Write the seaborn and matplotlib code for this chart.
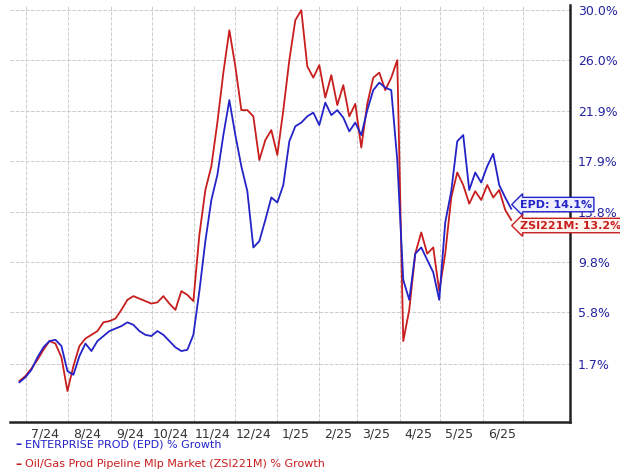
import matplotlib.pyplot as plt
import pandas as pd
import seaborn as sns

epd = [0.2, 0.6, 1.2, 2.2, 3.0, 3.5, 3.6, 3.1, 1.1, 0.8, 2.3, 3.3, 2.7, 3.5, 3.9, 4.3, 4.5, 4.7, 5.0, 4.8,
       4.3, 4.0, 3.9, 4.3, 4.0, 3.5, 3.0, 2.7, 2.8, 4.0, 7.5, 11.5, 14.8, 16.8, 20.0, 22.8, 20.0, 17.5, 15.5, 11.0,
       11.5, 13.2, 15.0, 14.6, 16.0, 19.5, 20.7, 21.0, 21.5, 21.8, 20.8, 22.6, 21.6, 22.0, 21.4, 20.3, 21.0, 20.0, 22.0, 23.6,
       24.2, 23.8, 23.6, 18.0, 8.4, 6.8, 10.5, 11.0, 10.0, 9.0, 6.8, 13.0, 15.5, 19.5, 20.0, 15.6, 17.0, 16.2, 17.5, 18.5,
       16.0, 15.0, 14.1]
zsi = [0.3, 0.7, 1.3, 2.0, 2.8, 3.5, 3.3, 2.2, -0.5, 1.5, 3.1, 3.7, 4.0, 4.3, 5.0, 5.1, 5.3, 6.0, 6.8, 7.1,
       6.9, 6.7, 6.5, 6.6, 7.1, 6.5, 6.0, 7.5, 7.2, 6.7, 12.0, 15.6, 17.5, 21.0, 25.0, 28.4, 25.5, 22.0, 22.0, 21.5,
       18.0, 19.6, 20.4, 18.4, 22.0, 26.0, 29.2, 30.0, 25.5, 24.6, 25.6, 23.0, 24.8, 22.4, 24.0, 21.5, 22.5, 19.0, 22.5, 24.6,
       25.0, 23.6, 24.6, 26.0, 3.5, 6.0, 10.5, 12.2, 10.5, 11.0, 7.5, 10.5, 15.0, 17.0, 16.0, 14.5, 15.5, 14.8, 16.0, 15.0,
       15.6, 14.0, 13.2]
yticks = [1.7, 5.8, 9.8, 13.8, 17.9, 21.9, 26.0, 30.0]
month_labels = ["7/24", "8/24", "9/24", "10/24", "11/24", "12/24", "1/25", "2/25", "3/25", "4/25", "5/25", "6/25"]

blue = "#2323c8"
red = "#c81e1e"

df = pd.concat([
    pd.DataFrame({"date": pd.date_range("2024-06-26", "2025-06-22", periods=len(epd)), "val": epd,
                  "series": "EPD"}),
    pd.DataFrame({"date": pd.date_range("2024-06-26", "2025-06-22", periods=len(zsi)), "val": zsi,
                  "series": "ZSI"}),
])

fig = plt.figure(figsize=(6.2, 4.76), dpi=100)
ax = fig.add_axes([0.016, 0.113, 0.903, 0.876])
sns.lineplot(data=df, x="date", y="val", hue="series", hue_order=["ZSI", "EPD"],
             palette={"EPD": blue, "ZSI": red}, linewidth=1.3, legend=False, ax=ax)

ax.set_xlim(pd.Timestamp("2024-06-19"), pd.Timestamp("2025-08-04"))
ax.set_ylim(-3.0, 30.4)
ax.yaxis.tick_right()
ax.set_yticks(yticks)
ax.set_yticklabels([f"{t:.1f}%" for t in yticks], color="#2323a0", fontsize=9)
ax.tick_params(axis="y", length=0, pad=6)

starts = pd.date_range("2024-07-01", "2025-07-01", freq="MS")
mids = [s + pd.Timedelta(days=14) for s in starts[:-1]]
ax.set_xticks(mids)
ax.set_xticklabels(month_labels, fontsize=9, color="#333333")
ax.tick_params(axis="x", which="both", length=0)
ax.grid(False)
for s in starts:
    ax.axvline(s, color="#cccccc", linestyle="--", linewidth=0.7, zorder=0)
for t in yticks:
    ax.axhline(t, color="#cccccc", linestyle="--", linewidth=0.7, zorder=0)
ax.set_xlabel("")
ax.set_ylabel("")
for sp in ["top", "left"]:
    ax.spines[sp].set_visible(False)
for sp in ["right", "bottom"]:
    ax.spines[sp].set_linewidth(1.8)
    ax.spines[sp].set_color("#222222")

last = df["date"].max()
ax.annotate(f"EPD: {epd[-1]:.1f}%", xy=(last, epd[-1]), xytext=(6, 3), textcoords="offset points",
            fontsize=8, fontweight="bold", color=blue, va="center", annotation_clip=False,
            bbox=dict(boxstyle="larrow,pad=0.2", fc="#eef0ff", ec=blue, lw=1))
ax.annotate(f"ZSI221M: {zsi[-1]:.1f}%", xy=(last, zsi[-1]), xytext=(6, -4), textcoords="offset points",
            fontsize=8, fontweight="bold", color=red, va="center", annotation_clip=False,
            bbox=dict(boxstyle="larrow,pad=0.2", fc="#fff4ee", ec=red, lw=1))

fig.text(0.025, 0.066, "\u2013", color=blue, fontsize=9, fontweight="bold", va="center")
fig.text(0.04, 0.066, "ENTERPRISE PROD (EPD) % Growth", color=blue, fontsize=8, va="center")
fig.text(0.025, 0.025, "\u2013", color=red, fontsize=9, fontweight="bold", va="center")
fig.text(0.04, 0.025, "Oil/Gas Prod Pipeline Mlp Market (ZSI221M) % Growth", color=red, fontsize=8, va="center")

fig.savefig("out.png", dpi=100)
